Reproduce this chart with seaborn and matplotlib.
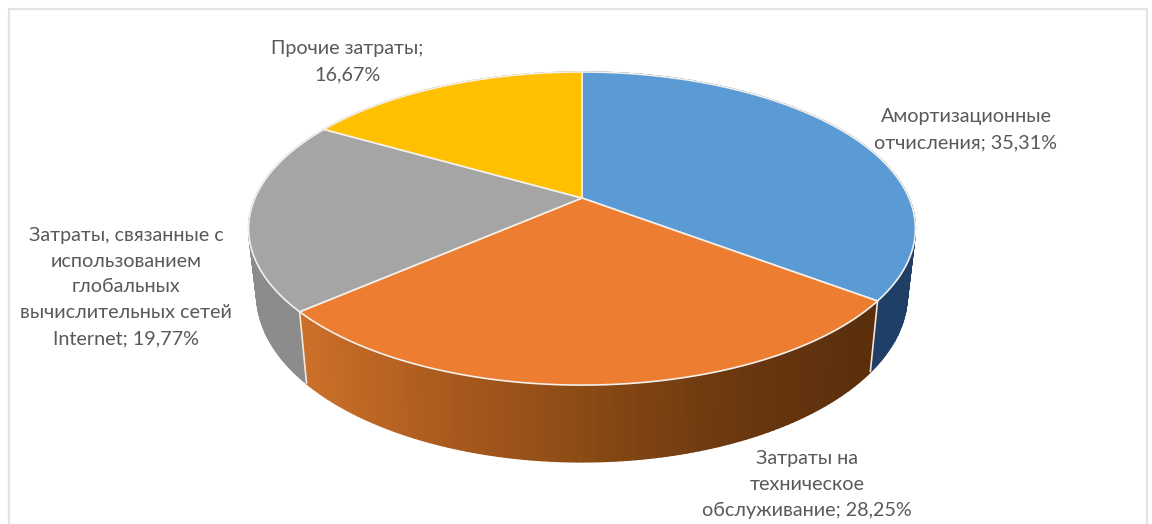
import numpy as np
import matplotlib
matplotlib.use("Agg")
import matplotlib.pyplot as plt
import seaborn as sns

categories = [
    "Амортизационные\nотчисления",
    "Затраты на\nтехническое\nобслуживание",
    "Затраты, связанные с\nиспользованием\nглобальных\nвычислительных сетей\nInternet",
    "Прочие затраты",
]
shares = [35.31, 28.25, 19.77, 16.67]
top_colors = ["#5B9BD5", "#ED7D31", "#A5A5A5", "#FFC000"]
side_ramps = [
    ["#1F3F66", "#1F3F66"],
    ["#CB7029", "#A95A1E", "#8A4A14", "#6B3810", "#5A2E0C"],
    ["#8C8C8C", "#7F7F7F"],
    ["#A87F00", "#A87F00"],
]
label_centers = [(966, 129.5), (807, 484.5), (126, 287), (347, 61.5)]
label_sep = [" ", " ", " ", "\n"]

sns.set_theme(style="white")
plt.rcParams["font.family"] = ["Lato", "DejaVu Sans"]

fig = plt.figure(figsize=(11.52, 5.24), dpi=100, facecolor="white")
ax = fig.add_axes([0, 0, 1, 1])
ax.set_xlim(0, 1152)
ax.set_ylim(524, 0)
ax.axis("off")

# Perspective projection of the tilted disc: apex, screen scale and foreshortening
APEX_X, APEX_Y = 582.0, 198.0
SCALE_X, SCALE_Y, TILT = 327.0, 150.6, -0.195
# The lower rim is the same circle, slightly narrower and pushed down
BASE_X, BASE_Y, BASE_DROP = 319.0, 160.6, 64.4


def rim(theta, sx=SCALE_X, sy=SCALE_Y, drop=0.0):
    """Screen position of a rim point; theta runs clockwise from twelve o'clock."""
    near = -np.cos(theta)
    denom = 1 + TILT * near
    return APEX_X + sx * np.sin(theta) / denom, APEX_Y + drop + sy * near / denom


edges = np.concatenate([[0.0], np.cumsum(shares)]) / np.sum(shares) * 2 * np.pi

# Side wall, drawn as narrow strips so the shading can follow the horizontal position
for start, stop, ramp in zip(edges[:-1], edges[1:], side_ramps):
    steps = max(int((stop - start) * 60), 4)
    thetas = np.linspace(start, stop, steps + 1)
    palette = sns.blend_palette(ramp, 128)
    for a, b in zip(thetas[:-1], thetas[1:]):
        x0, y0 = rim(np.array([a, b]))
        x1, y1 = rim(np.array([b, a]), BASE_X, BASE_Y, BASE_DROP)
        frac = np.clip((np.mean(x0) - 300) / (875 - 300), 0, 1)
        col = palette[int(frac * 127)]
        ax.fill(np.r_[x0, x1], np.r_[y0, y1], facecolor=col, edgecolor=col, lw=1.0, zorder=2)

# Light seams where the visible wall segments meet
for theta in edges[1:3]:
    x0, y0 = rim(theta)
    x1, y1 = rim(theta, BASE_X, BASE_Y, BASE_DROP)
    ax.plot([x0, x1], [y0, y1], color="#F6E6D8", lw=1.2, zorder=3, solid_capstyle="butt")

# Top faces of the slices
for start, stop, color in zip(edges[:-1], edges[1:], top_colors):
    thetas = np.linspace(start, stop, 200)
    x, y = rim(thetas)
    ax.fill(np.r_[APEX_X, x], np.r_[APEX_Y, y], facecolor=color,
            edgecolor="#F4F1EC", lw=1.2, joinstyle="round", zorder=4)

# Data labels
for name, share, (cx, cy), sep in zip(categories, shares, label_centers, label_sep):
    value = f"{share:.2f}".replace(".", ",")
    ax.text(cx, cy, f"{name};{sep}{value}%", ha="center", va="center",
            fontsize=14.2, color="#595959", linespacing=1.64, zorder=5)

# Chart frame, running off the bottom of the canvas
ax.plot([9, 9, 1147, 1147], [524, 9, 9, 524], color="#E3E3E3", lw=1.6, zorder=1)

fig.savefig("out.png", dpi=100, facecolor="white")
